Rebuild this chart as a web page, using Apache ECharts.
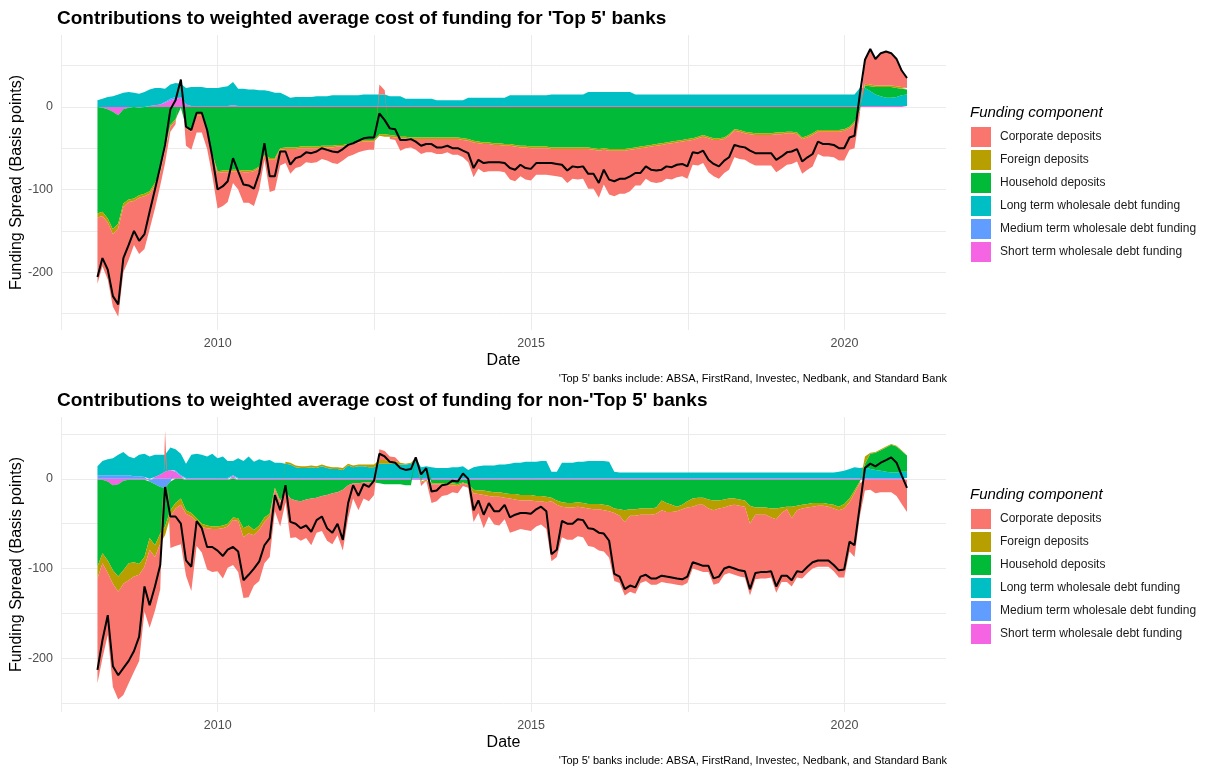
<!DOCTYPE html>
<html><head><meta charset="utf-8">
<script src="https://cdn.jsdelivr.net/npm/echarts@6/dist/echarts.min.js"></script>
<style>html,body{margin:0;padding:0;background:#fff}#c{width:1215px;height:770px}</style>
</head><body><div id="c"></div>
<script>
// Monthly observations, Jan 2008 .. Dec 2020 (156 months), dated at month end
const months = [];
for (let i = 0; i < 156; i++) months.push(Date.UTC(2008, i + 1, 0));

const xTickLabels = ['2010', '2015', '2020'];
const yTickLabels = ['-200', '-100', '0'];

// ---------- 'Top 5' banks ----------
const topTotal = [
-206,-183,-197,-229,-239,-183,-167,-150,-162,-154,
-127,-100,-72,-46,-3,8,33,-24,-28,-7,
-7,-28,-60,-100,-96,-90,-62,-78,-94,-95,
-99,-80,-44,-84,-84,-54,-54,-70,-62,-60,
-55,-56,-54,-50,-52,-54,-55,-51,-46,-44,
-41,-38,-37,-37,-8,-16,-26,-27,-40,-40,
-39,-42,-47,-45,-45,-49,-49,-47,-50,-50,
-53,-56,-74,-64,-68,-67,-67,-67,-68,-74,
-76,-70,-74,-75,-68,-68,-68,-68,-69,-70,
-77,-72,-73,-72,-81,-81,-92,-76,-88,-90,
-87,-87,-84,-80,-80,-72,-76,-77,-76,-72,
-73,-70,-69,-72,-55,-56,-53,-64,-69,-72,
-65,-61,-46,-48,-49,-53,-56,-56,-56,-56,
-64,-60,-55,-54,-51,-66,-61,-57,-42,-45,
-45,-46,-50,-50,-37,-35,15,57,70,58,
65,67,65,58,44,35];
const topShort = [
0,-1,-3,-6,-10,-3,-1,0,-1,0,
1,2,3,5,8,10,11,3,1,1,
1,1,1,1,1,1,2,1,1,1,
1,1,1,1,1,1,1,1,1,1,
1,1,1,1,1,1,1,1,1,1,
1,1,1,1,1,1,1,1,1,1,
1,1,1,1,1,1,1,1,1,1,
1,1,1,1,1,1,1,1,1,1,
1,1,1,1,1,1,1,1,1,1,
1,1,1,1,1,1,1,1,1,1,
1,1,1,1,1,1,1,1,1,1,
1,1,1,1,1,1,1,1,1,1,
1,1,1,1,1,1,1,1,1,1,
1,1,1,1,1,1,1,1,1,1,
1,1,1,1,1,1,1,1,1,1,
1,1,1,1,1,1];
const topMedium = [
0,0,0,0,0,0,0,0,0,0,
0,0,0,1,2,2,1,0,0,0,
0,0,0,0,0,0,0,0,0,0,
0,0,0,0,0,0,0,0,0,0,
0,0,0,0,0,0,0,0,0,0,
0,0,0,0,0,0,0,0,0,0,
0,0,0,0,0,0,0,0,0,0,
0,0,0,0,0,0,0,0,0,0,
0,0,0,0,0,0,0,0,0,0,
0,0,0,0,0,0,0,0,0,0,
0,0,0,0,0,0,0,0,0,0,
0,0,0,0,0,0,0,0,0,0,
0,0,0,0,0,0,0,0,0,0,
0,0,0,0,0,0,0,0,0,0,
0,0,0,0,0,0,0,0,0,0,
0,0,0,0,0,0];
const topLong = [
8,10,12,13,15,17,18,17,16,18,
20,21,20,16,17,17,16,20,23,23,
23,22,22,22,23,24,28,21,21,20,
20,19,19,18,16,16,13,10,11,11,
11,11,12,12,12,13,13,13,13,13,
13,14,14,14,14,14,12,12,12,9,
9,9,9,9,9,7,7,7,7,7,
7,10,10,10,10,10,10,10,10,13,
13,13,13,13,13,13,13,14,14,14,
14,14,14,14,17,17,17,17,17,17,
17,17,17,14,14,14,14,14,14,14,
14,14,14,14,14,14,14,14,14,14,
14,14,14,14,14,14,14,14,14,14,
14,14,14,14,14,14,14,14,14,14,
14,14,14,14,14,14,22,22,18,14,
12,10,10,11,13,14];
const topHousehold = [
-129,-126,-132,-142,-131,-114,-111,-111,-106,-105,
-102,-92,-78,-50,-22,-15,-1,-24,-28,-8,
-8,-28,-56,-78,-77,-77,-76,-76,-77,-77,
-76,-72,-58,-62,-62,-50,-49,-49,-49,-48,
-48,-48,-48,-47,-47,-47,-46,-46,-45,-43,
-41,-40,-40,-40,-33,-33,-34,-35,-36,-36,
-37,-37,-37,-37,-37,-37,-37,-37,-37,-37,
-38,-39,-41,-42,-43,-43,-44,-44,-45,-45,
-46,-47,-47,-48,-48,-48,-48,-49,-49,-49,
-49,-49,-49,-49,-49,-50,-51,-50,-51,-51,
-51,-51,-50,-49,-48,-47,-46,-45,-44,-43,
-42,-41,-40,-39,-38,-36,-34,-36,-38,-38,
-37,-33,-27,-28,-30,-31,-32,-32,-32,-32,
-31,-31,-30,-30,-31,-37,-35,-32,-28,-28,
-28,-28,-28,-27,-24,-18,-4,3,6,9,
11,13,13,11,8,6];
const topForeign = [
-5,-5,-5,-6,-6,-4,-3,-3,-3,-3,
-3,-3,-2,-2,-2,-2,3,-2,-2,-2,
-2,-2,-2,-2,-2,-2,-2,-2,-2,-2,
-2,-2,-2,-2,-2,-2,-2,-2,-2,-2,
-2,-2,-2,-2,-2,-2,-2,-2,-2,-2,
-2,-2,-2,-2,-2,-3,-2,-2,-2,-2,
-2,-2,-2,-2,-2,-2,-2,-2,-2,-2,
-2,-2,-2,-2,-2,-2,-2,-2,-2,-2,
-2,-2,-2,-2,-2,-2,-2,-2,-2,-2,
-2,-2,-2,-2,-2,-2,-2,-2,-2,-2,
-2,-2,-2,-2,-2,-2,-2,-2,-2,-2,
-2,-2,-2,-2,-2,-2,-2,-2,-2,-2,
-2,-2,-2,-2,-2,-2,-2,-2,-2,-2,
-2,-2,-2,-2,-2,-2,-2,-2,-2,-2,
-2,-2,-2,-2,-2,-2,0,2,2,2,
2,2,2,2,2,2];
const topCorporate = [
-80,-61,-69,-88,-107,-79,-70,-53,-68,-64,
-43,-28,-15,-16,-6,-4,3,-21,-22,-21,
-21,-21,-25,-43,-41,-36,-14,-22,-37,-37,
-42,-26,-4,-39,-37,-19,-17,-30,-23,-22,
-17,-18,-17,-14,-16,-19,-21,-17,-13,-13,
-12,-11,-10,-10,12,5,-3,-3,-15,-12,
-10,-13,-18,-16,-16,-18,-18,-16,-19,-19,
-21,-26,-42,-31,-34,-33,-32,-32,-32,-41,
-42,-35,-39,-39,-32,-32,-32,-32,-33,-34,
-41,-36,-37,-36,-48,-47,-57,-42,-53,-55,
-52,-52,-50,-44,-45,-38,-43,-45,-45,-42,
-44,-42,-42,-46,-30,-33,-32,-41,-44,-47,
-41,-41,-32,-33,-32,-35,-37,-37,-37,-37,
-46,-42,-38,-37,-33,-42,-39,-38,-27,-30,
-30,-31,-35,-36,-26,-30,-5,29,43,32,
39,41,39,33,20,12];

// ---------- non-'Top 5' banks ----------
const botTotal = [
-213,-180,-152,-209,-219,-211,-203,-192,-176,-120,
-141,-120,-96,-9,-42,-42,-50,-91,-98,-47,
-55,-76,-76,-80,-86,-79,-76,-81,-113,-107,
-100,-92,-74,-66,-18,-35,-7,-48,-50,-55,
-52,-59,-46,-42,-55,-60,-50,-68,-27,-7,
-19,-6,-9,-2,28,25,19,18,12,10,
11,24,5,12,-14,-13,-7,-6,-2,-3,
6,0,-35,-24,-40,-27,-36,-36,-29,-43,
-40,-38,-38,-39,-34,-31,-36,-84,-79,-47,
-50,-50,-45,-46,-55,-56,-60,-61,-69,-106,
-109,-123,-119,-121,-109,-107,-111,-111,-108,-109,
-110,-111,-112,-109,-93,-95,-97,-97,-111,-109,
-100,-98,-100,-102,-103,-123,-105,-104,-104,-103,
-120,-108,-108,-113,-103,-104,-98,-93,-91,-91,
-91,-96,-102,-101,-70,-74,-30,12,17,14,
18,21,24,18,4,-10];
const botShort = [
-1,-1,-3,-7,-6,-2,-1,-1,-1,-1,
-1,2,5,8,10,8,3,-1,-1,-1,
-1,-1,-1,-1,-1,-1,3,-1,-1,-1,
-1,-1,-1,-1,-1,-1,-1,-1,-1,-1,
-1,-1,-1,-1,-1,-1,-1,-1,-1,-1,
-1,-1,-1,-1,-1,-1,-1,-1,-1,-1,
-1,-1,-1,-1,-1,-1,-1,-1,-1,-1,
-1,-1,-1,-1,-1,-1,-1,-1,-1,-1,
-1,-1,-1,-1,-1,-1,-1,-1,-1,-1,
-1,-1,-1,-1,-1,-1,-1,-1,-1,-1,
-1,-1,-1,-1,-1,-1,-1,-1,-1,-1,
-1,-1,-1,-1,-1,-1,-1,-1,-1,-1,
-1,-1,-1,-1,-1,-1,-1,-1,-1,-1,
-1,-1,-1,-1,-1,-1,-1,-1,-1,-1,
-1,-1,-1,-1,-1,-1,-1,-1,-1,-1,
-1,-1,-1,-1,-1,-1];
const botMedium = [
4,4,4,4,4,4,4,3,3,2,
-2,-6,-9,-10,-3,1,1,1,1,1,
1,1,1,1,1,1,1,1,1,1,
1,1,1,1,1,1,1,1,1,1,
1,1,1,1,1,1,1,1,1,1,
1,1,1,1,1,1,1,1,1,1,
1,1,1,1,1,1,1,1,1,1,
1,1,1,1,1,1,1,1,1,1,
1,1,1,1,1,1,1,1,1,1,
1,1,1,1,1,1,1,1,1,1,
1,1,1,1,1,1,1,1,1,1,
1,1,1,1,1,1,1,1,1,1,
1,1,1,1,1,1,1,1,1,1,
1,1,1,1,1,1,1,1,1,1,
1,1,1,1,1,1,1,1,1,1,
1,1,1,1,1,1];
const botLong = [
10,16,18,19,23,26,21,20,24,26,
25,25,22,19,25,24,24,16,26,27,
26,24,27,22,24,19,16,22,19,24,
18,21,19,20,17,17,16,15,12,11,
11,12,11,13,11,10,10,9,14,12,
13,13,12,12,16,16,16,16,15,15,
16,22,12,13,12,11,11,11,12,12,
13,9,12,13,14,14,14,15,15,16,
17,17,18,18,18,19,19,7,7,17,
17,17,18,18,19,19,19,19,18,7,
6,6,6,6,6,6,6,6,6,6,
6,6,6,6,6,6,6,6,6,6,
6,6,6,6,6,6,6,6,6,6,
6,6,6,6,6,6,6,6,6,6,
6,6,7,8,10,12,11,12,10,9,
8,7,6,6,7,7];
const botHousehold = [
-97,-82,-88,-95,-103,-100,-93,-92,-94,-86,
-63,-68,-52,-43,-32,-27,-22,-34,-37,-43,
-49,-51,-52,-52,-51,-49,-43,-43,-54,-51,
-56,-51,-42,-38,-9,-23,-13,-21,-23,-24,
-22,-21,-20,-18,-17,-15,-14,-11,-6,-4,
-4,-3,-3,-3,-4,-5,-5,-5,-5,-6,
-6,0,-2,0,-4,-4,-4,-4,-4,-5,
-3,-5,-11,-12,-12,-13,-14,-14,-15,-16,
-16,-17,-17,-17,-18,-18,-19,-20,-23,-25,
-26,-26,-25,-26,-27,-27,-27,-28,-29,-32,
-33,-34,-33,-33,-32,-32,-32,-31,-23,-26,
-28,-30,-28,-24,-21,-20,-20,-22,-23,-23,
-22,-21,-21,-22,-23,-29,-31,-31,-31,-32,
-32,-31,-30,-30,-29,-28,-27,-26,-26,-26,
-27,-28,-30,-27,-21,-12,-2,4,17,19,
23,27,31,29,23,18];
const botForeign = [
-13,-11,-14,-15,-17,-15,-19,-16,-12,-11,
-13,-13,-11,-10,-7,-6,-7,-4,-4,-4,
-4,-3,-3,-3,-3,-3,-3,-3,-10,-9,
-6,-5,-5,-3,-2,-2,2,2,2,2,
2,2,2,2,2,2,2,2,2,2,
2,2,3,3,4,4,3,3,2,1,
1,1,-1,-1,-1,-1,-1,-2,-2,-2,
-1,-1,-4,-4,-5,-5,-5,-5,-5,-5,
-6,-6,-6,-6,-6,-6,-6,-4,-5,-5,
-5,-5,-5,-5,-5,-6,-6,-6,-6,-5,
-7,-13,-7,-7,-7,-7,-7,-7,-11,-10,
-8,-5,-5,-7,-9,-8,-8,-10,-11,-9,
-9,-8,-7,-7,-7,-20,-8,-8,-8,-10,
-12,-6,-3,-13,-5,-4,-4,-4,-3,-3,
-3,-4,-4,-5,-4,-3,-2,8,1,1,
1,1,1,1,1,1];
const botCorporate = [
-117,-106,-69,-115,-120,-124,-115,-106,-96,-50,
-87,-60,-51,27,-35,-42,-44,-69,-83,-27,
-28,-46,-48,-47,-56,-46,-50,-57,-68,-71,
-56,-57,-46,-45,-24,-27,-12,-44,-41,-44,
-43,-52,-39,-39,-51,-57,-48,-68,-37,-17,
-30,-18,-21,-14,12,10,5,4,0,0,
0,0,-4,0,-21,-19,-13,-11,-8,-8,
-3,-3,-32,-21,-37,-23,-31,-32,-24,-38,
-35,-32,-33,-34,-28,-26,-30,-67,-58,-34,
-36,-36,-33,-33,-42,-42,-46,-46,-52,-76,
-75,-82,-85,-87,-76,-74,-78,-79,-80,-79,
-80,-82,-85,-84,-69,-73,-75,-71,-83,-83,
-75,-75,-78,-79,-79,-80,-72,-71,-71,-67,
-82,-77,-81,-76,-75,-78,-73,-69,-68,-68,
-67,-70,-75,-77,-55,-71,-37,-12,-11,-15,
-14,-14,-14,-18,-27,-36];

const NAMES = {
  corp: 'Corporate deposits',
  foreign: 'Foreign deposits',
  house: 'Household deposits',
  long: 'Long term wholesale debt funding',
  medium: 'Medium term wholesale debt funding',
  short: 'Short term wholesale debt funding'
};
const COLORS = {
  corp: '#F8766D', foreign: '#B79F00', house: '#00BA38',
  long: '#00BFC4', medium: '#619CFF', short: '#F564E3'
};
const legendOrder = ['corp','foreign','house','long','medium','short'].map(k => NAMES[k]);

const panels = [
  {short: topShort, medium: topMedium, long: topLong, house: topHousehold, foreign: topForeign, corp: topCorporate, total: topTotal},
  {short: botShort, medium: botMedium, long: botLong, house: botHousehold, foreign: botForeign, corp: botCorporate, total: botTotal}
];
// stacking order from zero outwards (ggplot puts the last level nearest zero)
const stackOrder = ['short','medium','long','house','foreign','corp'];

// decimal year -> timestamp (for the hidden time axis that carries the data)
function yearToMs(y) {
  const f = Math.floor(y), a = Date.UTC(f, 0, 1), b = Date.UTC(f + 1, 0, 1);
  return a + (y - f) * (b - a);
}
const X_MIN = 2007.5, X_MAX = 2021.62;

const series = [];
panels.forEach((p, gi) => {
  stackOrder.forEach(k => {
    series.push({
      type: 'line', name: NAMES[k], xAxisIndex: 2 + gi, yAxisIndex: gi,
      stack: 'panel' + gi, stackStrategy: 'samesign',
      data: p[k].map((v, i) => [months[i], v]),
      symbol: 'none', showSymbol: false, silent: true,
      color: COLORS[k], itemStyle: {color: COLORS[k]},
      lineStyle: {width: 0, color: COLORS[k]},
      areaStyle: {color: COLORS[k], opacity: 1},
      z: 2
    });
  });
  series.push({
    type: 'line', name: 'Total', xAxisIndex: 2 + gi, yAxisIndex: gi,
    data: p.total.map((v, i) => [months[i], v]),
    symbol: 'none', showSymbol: false, silent: true,
    lineStyle: {color: '#000', width: 2}, itemStyle: {color: '#000'}, z: 4
  });
});

const G = '#ebebeb', T = 'rgba(0,0,0,0)';
const FONT = '"Liberation Sans", Arial, sans-serif';
function xAxisVisible(gi) {
  return {
    gridIndex: gi, type: 'value', min: X_MIN, max: X_MAX, interval: 2.5,
    axisLine: {show: false}, axisTick: {show: false},
    axisLabel: {color: '#4d4d4d', fontSize: 12.5, margin: 7,
      formatter: v => { const s = String(Math.round(v)); return (Math.abs(v - Math.round(v)) < 1e-6 && xTickLabels.includes(s)) ? s : ''; }},
    splitLine: {show: true, lineStyle: {color: [G,G,G,G,G,G,T], width: 1}},
    name: 'Date', nameLocation: 'middle', nameGap: 23, nameMoveOverlap: false,
    nameTextStyle: {color: '#000', fontSize: 16}
  };
}
function xAxisTime(gi) {
  return {gridIndex: gi, type: 'time', min: yearToMs(X_MIN), max: yearToMs(X_MAX), show: false,
          splitLine: {show: false}};
}
function yAxis(gi, min, max, colors) {
  return {
    gridIndex: gi, type: 'value', min: min, max: max, interval: 10,
    axisLine: {show: false}, axisTick: {show: false},
    axisLabel: {color: '#4d4d4d', fontSize: 12.5, margin: 8,
      formatter: v => { const s = String(Math.round(v)); return yTickLabels.includes(s) && Math.abs(v - Math.round(v)) < 1e-6 ? s : ''; }},
    splitLine: {show: true, lineStyle: {color: colors, width: 1}},
    name: 'Funding Spread (Basis points)', nameLocation: 'middle', nameGap: 36, nameMoveOverlap: false,
    nameTextStyle: {color: '#000', fontSize: 16}
  };
}
function legend(top) {
  return {
    data: legendOrder, orient: 'vertical', left: 971, top: top, padding: 0,
    itemWidth: 20, itemHeight: 20, itemGap: 3, icon: 'rect', selectedMode: false,
    textStyle: {fontSize: 12, color: '#1a1a1a', padding: [0, 0, 0, 4]}
  };
}
const caption = "'Top 5' banks include: ABSA, FirstRand, Investec, Nedbank, and Standard Bank";

const option = {
  animation: false,
  backgroundColor: '#ffffff',
  textStyle: {fontFamily: FONT},
  title: [
    {text: "Contributions to weighted average cost of funding for 'Top 5' banks", left: 57, top: 9, padding: 0,
     textStyle: {fontSize: 19, fontWeight: 'bold', color: '#000'}},
    {text: "Contributions to weighted average cost of funding for non-'Top 5' banks", left: 57, top: 391, padding: 0,
     textStyle: {fontSize: 19, fontWeight: 'bold', color: '#000'}},
    {text: caption, right: 268, top: 373, padding: 0, textStyle: {fontSize: 11, fontWeight: 'normal', color: '#000'}},
    {text: caption, right: 268, top: 755, padding: 0, textStyle: {fontSize: 11, fontWeight: 'normal', color: '#000'}},
    {text: 'Funding component', left: 970, top: 105, padding: 0, textStyle: {fontSize: 15, fontStyle: 'italic', fontWeight: 'normal', color: '#000'}},
    {text: 'Funding component', left: 970, top: 487, padding: 0, textStyle: {fontSize: 15, fontStyle: 'italic', fontWeight: 'normal', color: '#000'}}
  ],
  legend: [legend(127), legend(509)],
  grid: [
    {left: 61, top: 35, width: 885, height: 295, containLabel: false, outerBoundsMode: 'none'},
    {left: 61, top: 417, width: 885, height: 295, containLabel: false, outerBoundsMode: 'none'}
  ],
  xAxis: [xAxisVisible(0), xAxisVisible(1), xAxisTime(0), xAxisTime(1)],
  yAxis: [yAxis(0, -270, 87, [T,T,G,T,T]), yAxis(1, -260, 69, [T,G,T,T,T])],
  series: series
};
const chart = echarts.init(document.getElementById('c'), null, {renderer: 'canvas'});
chart.setOption(option);
</script>
</body></html>
